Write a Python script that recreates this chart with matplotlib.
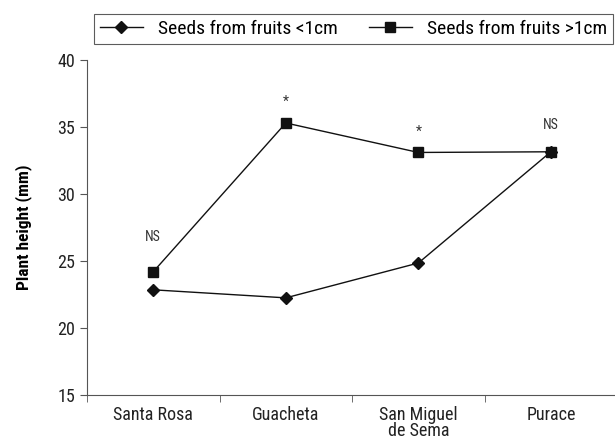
import matplotlib
matplotlib.use('agg')
import matplotlib.pyplot as plt
import numpy as np

plt.rcParams['font.family'] = ['Roboto Condensed', 'Liberation Sans Narrow', 'Roboto', 'DejaVu Sans']

sites = ["Santa Rosa", "Guacheta", "San Miguel\nde Sema", "Purace"]
small_fruits = [22.85, 22.25, 24.85, 33.15]
large_fruits = [24.2, 35.3, 33.1, 33.15]
signif = ["NS", "*", "*", "NS"]
label_gap = [2.05, 1.05, 1.05, 1.45]

x = np.arange(len(sites))

fig = plt.figure(figsize=(6.15, 4.47), dpi=100)
ax = fig.add_axes([0.1415, 0.1163, 0.862, 0.7495])

ax.plot(x, small_fruits, color="#111111", lw=1, marker="D", ms=6,
        label="Seeds from fruits <1cm")
ax.plot(x, large_fruits, color="#111111", lw=1, marker="s", ms=7.5,
        label="Seeds from fruits >1cm")

for xi, yi, s, g in zip(x, large_fruits, signif, label_gap):
    ax.text(xi, yi + g, s, ha="center", va="bottom", fontsize=10, color="#333333")

ax.set_xlim(-0.5, 3.5)
ax.set_ylim(15, 40)
ax.set_yticks([15, 20, 25, 30, 35, 40])
ax.set_xticks(x)
ax.set_xticklabels(sites, fontsize=13, linespacing=0.85, color="#222222")
ax.set_xticks(np.arange(-0.5, 3.6, 1), minor=True)
ax.tick_params(axis="x", which="major", length=0, pad=8)
ax.tick_params(axis="x", which="minor", length=5, color="#555555")
ax.tick_params(axis="y", length=5, color="#555555", labelsize=13, labelcolor="#222222")
ax.set_ylabel("Plant height (mm)", fontsize=12.5, fontweight="bold", labelpad=18)

for side in ["top", "right"]:
    ax.spines[side].set_visible(False)
for side in ["left", "bottom"]:
    ax.spines[side].set_color("#555555")

leg = fig.legend(loc="upper center", bbox_to_anchor=(0.575, 0.99), ncol=2,
                 frameon=True, fancybox=False, edgecolor="#333333",
                 fontsize=14, handlelength=2.2, columnspacing=1.6,
                 borderpad=0.3, handletextpad=0.8, numpoints=1)
leg.get_frame().set_linewidth(0.8)

plt.savefig("out.png", dpi=100)
